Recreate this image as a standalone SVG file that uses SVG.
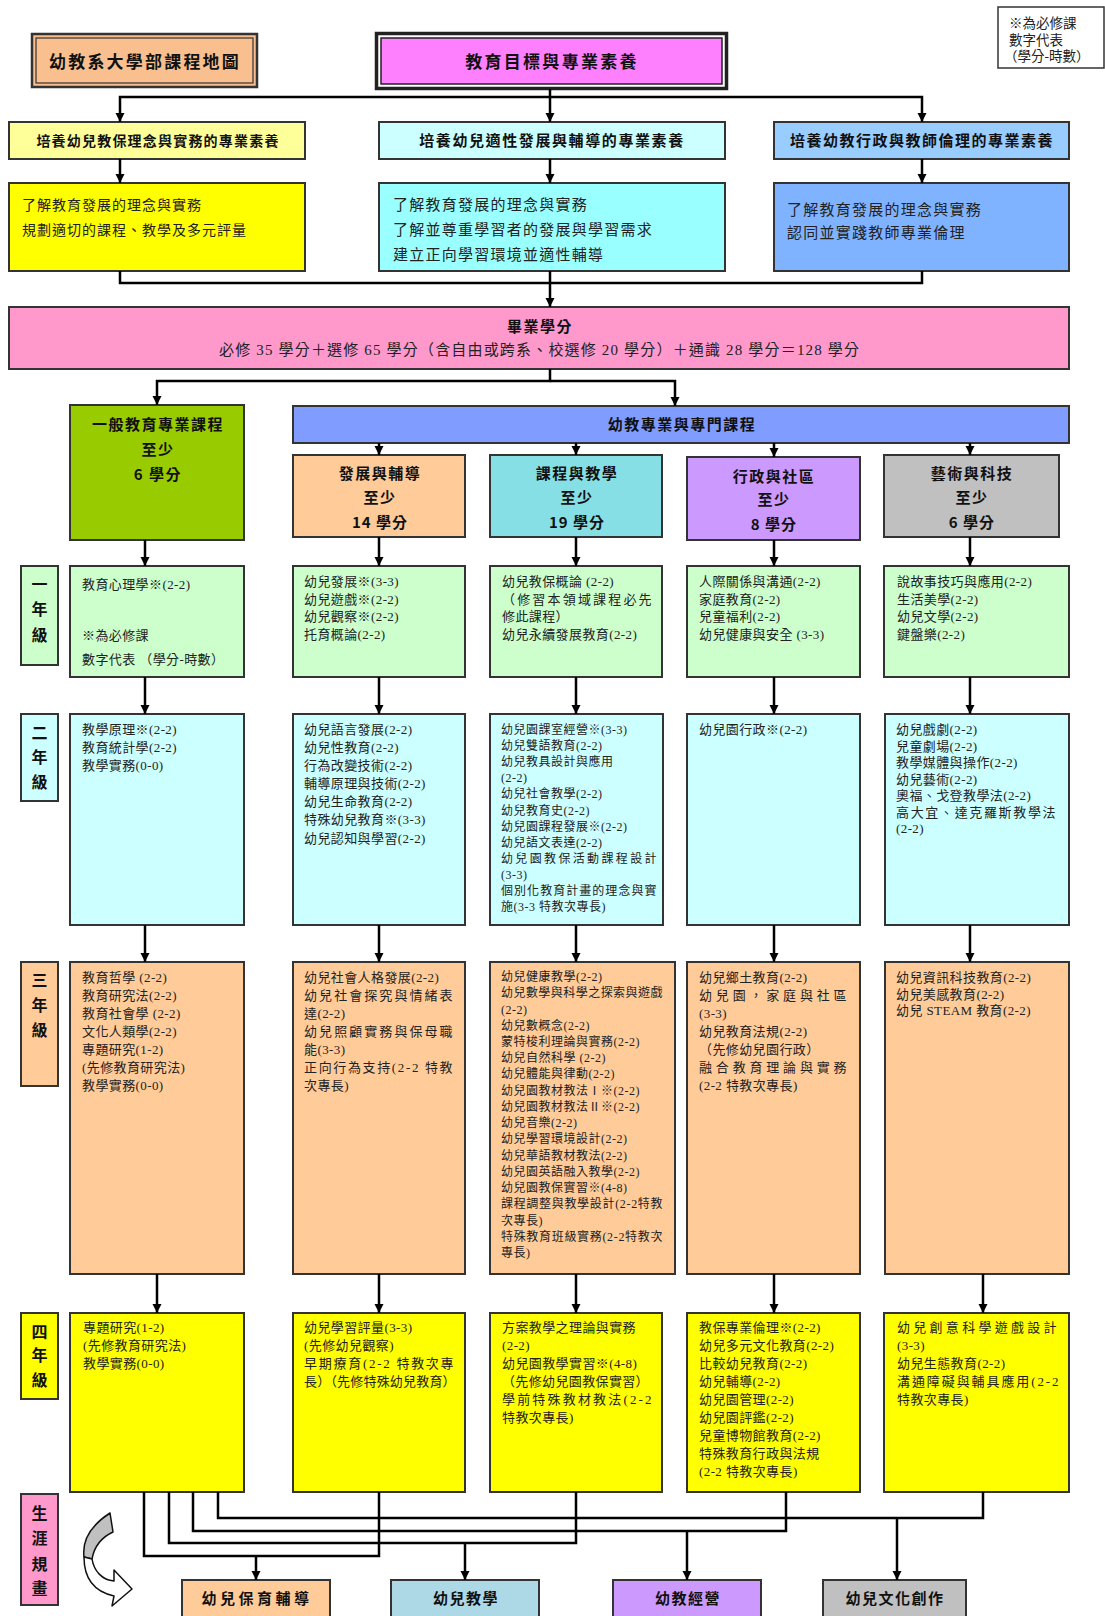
<svg xmlns="http://www.w3.org/2000/svg" width="1105" height="1616" viewBox="0 0 1105 1616">
<defs>
<marker id="ah" viewBox="0 0 10 10" refX="10" refY="5" markerWidth="9" markerHeight="10" markerUnits="userSpaceOnUse" orient="auto"><path d="M0,0 L10,5 L0,10 z" fill="#000"/></marker>
</defs>
<style>
.box{stroke:#333;stroke-width:2}
.t{font-family:"Liberation Serif","Noto Sans CJK TC",serif;font-size:13px;fill:#222;letter-spacing:0.4px}
.s{font-size:12px;letter-spacing:0.5px}
.h{font-family:"Noto Sans CJK TC",sans-serif;font-weight:700;fill:#111;text-anchor:middle}
.d{font-family:"Liberation Serif","Noto Sans CJK TC",serif;fill:#222}
.yl{font-family:"Noto Sans CJK TC",sans-serif;font-weight:700;font-size:16px;fill:#111;text-anchor:middle}
.c path,.c line{stroke:#000;stroke-width:2.5;fill:none}
.m{marker-end:url(#ah)}
</style>
<rect width="1105" height="1616" fill="#fff"/>

<g id="title">
<rect x="32" y="34" width="225" height="53" fill="#f9bf8f" stroke="#333" stroke-width="2.5"/>
<rect x="36" y="38" width="217" height="45" fill="none" stroke="#333" stroke-width="1.2"/>
<text class="h" x="145" y="68" font-size="17" letter-spacing="2.2">幼教系大學部課程地圖</text>
</g>

<g id="goal">
<rect x="376.5" y="33.5" width="350" height="55" fill="#fff" stroke="#222" stroke-width="3.5"/>
<rect x="381" y="38" width="341" height="46" fill="#ff80ff" stroke="#222" stroke-width="1.5"/>
<text class="h" x="552" y="68" font-size="17" letter-spacing="2.3">教育目標與專業素養</text>
</g>

<g id="legend">
<rect x="998" y="7" width="106" height="61" fill="#fff" stroke="#333" stroke-width="1.5"/>
<text class="d" x="1009" y="28" font-size="13.5">※為必修課</text>
<text class="d" x="1009" y="45" font-size="13.5">數字代表</text>
<text class="d" x="1004" y="61" font-size="13.5">（學分-時數）</text>
</g>

<g id="comp1">
<rect class="box" x="9" y="122" width="296" height="37" fill="#ffff99"/>
<text class="h" x="158" y="146" font-size="14" letter-spacing="1.2">培養幼兒教保理念與實務的專業素養</text>
</g>
<g id="comp2">
<rect class="box" x="379" y="122" width="346" height="37" fill="#ccffff"/>
<text class="h" x="552" y="146" font-size="15" letter-spacing="1.6">培養幼兒適性發展與輔導的專業素養</text>
</g>
<g id="comp3">
<rect class="box" x="774" y="122" width="295" height="37" fill="#99ccff"/>
<text class="h" x="922" y="146" font-size="15" letter-spacing="1.5">培養幼教行政與教師倫理的專業素養</text>
</g>

<g id="desc1">
<rect class="box" x="9" y="183" width="296" height="88" fill="#ffff00"/>
<text class="d" x="22" y="210" font-size="14" letter-spacing="1">了解教育發展的理念與實務</text>
<text class="d" x="22" y="235" font-size="14" letter-spacing="1">規劃適切的課程、教學及多元評量</text>
</g>
<g id="desc2">
<rect class="box" x="379" y="183" width="346" height="88" fill="#99ffff"/>
<text class="d" x="393" y="210" font-size="15" letter-spacing="1.25">了解教育發展的理念與實務</text>
<text class="d" x="393" y="235" font-size="15" letter-spacing="1.25">了解並尊重學習者的發展與學習需求</text>
<text class="d" x="393" y="260" font-size="15" letter-spacing="1.25">建立正向學習環境並適性輔導</text>
</g>
<g id="desc3">
<rect class="box" x="774" y="183" width="295" height="88" fill="#80b3ff"/>
<text class="d" x="787" y="215" font-size="15" letter-spacing="1.25">了解教育發展的理念與實務</text>
<text class="d" x="787" y="238" font-size="15" letter-spacing="1.25">認同並實踐教師專業倫理</text>
</g>

<g id="credits">
<rect class="box" x="9" y="307" width="1060" height="62" fill="#ff99cc"/>
<text class="h" x="540" y="332" font-size="15" letter-spacing="1.5">畢業學分</text>
<text class="d" x="219" y="355" font-size="15" textLength="640" lengthAdjust="spacing">必修 35 學分＋選修 65 學分（含自由或跨系、校選修 20 學分）＋通識 28 學分＝128 學分</text>
</g>

<g id="general">
<rect class="box" x="70" y="405" width="174" height="135" fill="#99cc00"/>
<text class="h" x="158" y="430" font-size="15" letter-spacing="1.5">一般教育專業課程</text>
<text class="h" x="158" y="455" font-size="15" letter-spacing="1.5">至少</text>
<text class="h" x="158" y="480" font-size="15" letter-spacing="1.5">6 學分</text>
</g>

<g id="major">
<rect class="box" x="293" y="406" width="776" height="37" fill="#809cff"/>
<text class="h" x="682" y="430" font-size="15" letter-spacing="1.5">幼教專業與專門課程</text>
</g>

<g id="cat-dev">
<rect class="box" x="293" y="455" width="172" height="82" fill="#ffcc99"/>
<text class="h" x="380" y="479" font-size="15" letter-spacing="1.5">發展與輔導</text>
<text class="h" x="380" y="503" font-size="15" letter-spacing="1.5">至少</text>
<text class="h" x="380" y="528" font-size="15" letter-spacing="1">14 學分</text>
</g>
<g id="cat-cur">
<rect class="box" x="490" y="455" width="172" height="82" fill="#85dfe5"/>
<text class="h" x="577" y="479" font-size="15" letter-spacing="1.5">課程與教學</text>
<text class="h" x="577" y="503" font-size="15" letter-spacing="1.5">至少</text>
<text class="h" x="577" y="528" font-size="15" letter-spacing="1">19 學分</text>
</g>
<g id="cat-adm">
<rect class="box" x="687" y="457" width="173" height="83" fill="#cc99ff"/>
<text class="h" x="774" y="482" font-size="15" letter-spacing="1.5">行政與社區</text>
<text class="h" x="774" y="505" font-size="15" letter-spacing="1.5">至少</text>
<text class="h" x="774" y="530" font-size="15" letter-spacing="1">8 學分</text>
</g>
<g id="cat-art">
<rect class="box" x="884" y="455" width="175" height="82" fill="#c0c0c0"/>
<text class="h" x="972" y="479" font-size="15" letter-spacing="1.5">藝術與科技</text>
<text class="h" x="972" y="503" font-size="15" letter-spacing="1.5">至少</text>
<text class="h" x="972" y="528" font-size="15" letter-spacing="1">6 學分</text>
</g>

<!-- Year 1 -->
<g id="y1-label">
<rect class="box" x="21" y="566" width="37" height="99" fill="#ccffcc"/>
<text class="yl" x="39.5" y="590">一</text><text class="yl" x="39.5" y="615">年</text><text class="yl" x="39.5" y="641">級</text>
</g>
<g id="y1-gen">
<rect class="box" x="70" y="566" width="174" height="111" fill="#ccffcc"/>
<text class="t" x="82" y="589">教育心理學※(2-2)</text>
<text class="t" x="82" y="640">※為必修課</text>
<text class="t" x="82" y="664">數字代表 （學分-時數）</text>
</g>
<g id="y1-dev">
<rect class="box" x="293" y="566" width="172" height="111" fill="#ccffcc"/>
<text class="t" x="304" y="586">幼兒發展※(3-3)</text>
<text class="t" x="304" y="604">幼兒遊戲※(2-2)</text>
<text class="t" x="304" y="621">幼兒觀察※(2-2)</text>
<text class="t" x="304" y="639">托育概論(2-2)</text>
</g>
<g id="y1-cur">
<rect class="box" x="490" y="566" width="172" height="111" fill="#ccffcc"/>
<text class="t" x="502" y="586">幼兒教保概論 (2-2)</text>
<text class="t" x="502" y="604" textLength="150" lengthAdjust="spacing">（修習本領域課程必先</text>
<text class="t" x="502" y="621">修此課程）</text>
<text class="t" x="502" y="639">幼兒永續發展教育(2-2)</text>
</g>
<g id="y1-adm">
<rect class="box" x="687" y="566" width="173" height="111" fill="#ccffcc"/>
<text class="t" x="699" y="586">人際關係與溝通(2-2)</text>
<text class="t" x="699" y="604">家庭教育(2-2)</text>
<text class="t" x="699" y="621">兒童福利(2-2)</text>
<text class="t" x="699" y="639">幼兒健康與安全 (3-3)</text>
</g>
<g id="y1-art">
<rect class="box" x="884" y="566" width="185" height="111" fill="#ccffcc"/>
<text class="t" x="897" y="586">說故事技巧與應用(2-2)</text>
<text class="t" x="897" y="604">生活美學(2-2)</text>
<text class="t" x="897" y="621">幼兒文學(2-2)</text>
<text class="t" x="897" y="639">鍵盤樂(2-2)</text>
</g>

<!-- Year 2 -->
<g id="y2-label">
<rect class="box" x="21" y="714" width="37" height="87" fill="#ccffff"/>
<text class="yl" x="39.5" y="739">二</text><text class="yl" x="39.5" y="763">年</text><text class="yl" x="39.5" y="788">級</text>
</g>
<g id="y2-gen">
<rect class="box" x="70" y="714" width="174" height="211" fill="#ccffff"/>
<text class="t" x="82" y="734">教學原理※(2-2)</text>
<text class="t" x="82" y="752">教育統計學(2-2)</text>
<text class="t" x="82" y="770">教學實務(0-0)</text>
</g>
<g id="y2-dev">
<rect class="box" x="293" y="714" width="172" height="211" fill="#ccffff"/>
<text class="t" x="304" y="734">幼兒語言發展(2-2)</text>
<text class="t" x="304" y="752">幼兒性教育(2-2)</text>
<text class="t" x="304" y="770">行為改變技術(2-2)</text>
<text class="t" x="304" y="788">輔導原理與技術(2-2)</text>
<text class="t" x="304" y="806">幼兒生命教育(2-2)</text>
<text class="t" x="304" y="824">特殊幼兒教育※(3-3)</text>
<text class="t" x="304" y="843">幼兒認知與學習(2-2)</text>
</g>
<g id="y2-cur">
<rect class="box" x="490" y="714" width="173" height="211" fill="#ccffff"/>
<text class="t s" x="501" y="734">幼兒園課室經營※(3-3)</text>
<text class="t s" x="501" y="750">幼兒雙語教育(2-2)</text>
<text class="t s" x="501" y="766">幼兒教具設計與應用</text>
<text class="t s" x="501" y="782">(2-2)</text>
<text class="t s" x="501" y="798">幼兒社會教學(2-2)</text>
<text class="t s" x="501" y="815">幼兒教育史(2-2)</text>
<text class="t s" x="501" y="831">幼兒園課程發展※(2-2)</text>
<text class="t s" x="501" y="847">幼兒語文表達(2-2)</text>
<text class="t s" x="501" y="863" textLength="156" lengthAdjust="spacing">幼兒園教保活動課程設計</text>
<text class="t s" x="501" y="879">(3-3)</text>
<text class="t s" x="501" y="895" textLength="156" lengthAdjust="spacing">個別化教育計畫的理念與實</text>
<text class="t s" x="501" y="911">施(3-3 特教次專長)</text>
</g>
<g id="y2-adm">
<rect class="box" x="687" y="714" width="173" height="211" fill="#ccffff"/>
<text class="t" x="699" y="734">幼兒園行政※(2-2)</text>
</g>
<g id="y2-art">
<rect class="box" x="885" y="714" width="184" height="211" fill="#ccffff"/>
<text class="t" x="896" y="734">幼兒戲劇(2-2)</text>
<text class="t" x="896" y="750.5">兒童劇場(2-2)</text>
<text class="t" x="896" y="767">教學媒體與操作(2-2)</text>
<text class="t" x="896" y="783.5">幼兒藝術(2-2)</text>
<text class="t" x="896" y="800">奧福、戈登教學法(2-2)</text>
<text class="t" x="896" y="816.5" textLength="160" lengthAdjust="spacing">高大宜、達克羅斯教學法</text>
<text class="t" x="896" y="833">(2-2)</text>
</g>

<!-- Year 3 -->
<g id="y3-label">
<rect class="box" x="21" y="962" width="37" height="124" fill="#ffcc99"/>
<text class="yl" x="39.5" y="986">三</text><text class="yl" x="39.5" y="1011">年</text><text class="yl" x="39.5" y="1036">級</text>
</g>
<g id="y3-gen">
<rect class="box" x="70" y="962" width="174" height="312" fill="#ffcc99"/>
<text class="t" x="82" y="982">教育哲學 (2-2)</text>
<text class="t" x="82" y="1000">教育研究法(2-2)</text>
<text class="t" x="82" y="1018">教育社會學 (2-2)</text>
<text class="t" x="82" y="1036">文化人類學(2-2)</text>
<text class="t" x="82" y="1054">專題研究(1-2)</text>
<text class="t" x="82" y="1072">(先修教育研究法)</text>
<text class="t" x="82" y="1090">教學實務(0-0)</text>
</g>
<g id="y3-dev">
<rect class="box" x="293" y="962" width="172" height="312" fill="#ffcc99"/>
<text class="t" x="304" y="982">幼兒社會人格發展(2-2)</text>
<text class="t" x="304" y="1000" textLength="149" lengthAdjust="spacing">幼兒社會探究與情緒表</text>
<text class="t" x="304" y="1018">達(2-2)</text>
<text class="t" x="304" y="1036" textLength="149" lengthAdjust="spacing">幼兒照顧實務與保母職</text>
<text class="t" x="304" y="1054">能(3-3)</text>
<text class="t" x="304" y="1072" textLength="149" lengthAdjust="spacing">正向行為支持(2-2 特教</text>
<text class="t" x="304" y="1090">次專長)</text>
</g>
<g id="y3-cur">
<rect class="box" x="490" y="962" width="185" height="312" fill="#ffcc99"/>
<text class="t s" x="501" y="981">幼兒健康教學(2-2)</text>
<text class="t s" x="501" y="997.2" textLength="162" lengthAdjust="spacing">幼兒數學與科學之探索與遊戲</text>
<text class="t s" x="501" y="1013.5">(2-2)</text>
<text class="t s" x="501" y="1029.7">幼兒數概念(2-2)</text>
<text class="t s" x="501" y="1046">蒙特梭利理論與實務(2-2)</text>
<text class="t s" x="501" y="1062.2">幼兒自然科學 (2-2)</text>
<text class="t s" x="501" y="1078.4">幼兒體能與律動(2-2)</text>
<text class="t s" x="501" y="1094.7">幼兒園教材教法Ⅰ※(2-2)</text>
<text class="t s" x="501" y="1110.9">幼兒園教材教法Ⅱ※(2-2)</text>
<text class="t s" x="501" y="1127.2">幼兒音樂(2-2)</text>
<text class="t s" x="501" y="1143.4">幼兒學習環境設計(2-2)</text>
<text class="t s" x="501" y="1159.6">幼兒華語教材教法(2-2)</text>
<text class="t s" x="501" y="1175.9">幼兒園英語融入教學(2-2)</text>
<text class="t s" x="501" y="1192.1">幼兒園教保實習※(4-8)</text>
<text class="t s" x="501" y="1208.4" textLength="162" lengthAdjust="spacing">課程調整與教學設計(2-2特教</text>
<text class="t s" x="501" y="1224.6">次專長)</text>
<text class="t s" x="501" y="1240.8" textLength="162" lengthAdjust="spacing">特殊教育班級實務(2-2特教次</text>
<text class="t s" x="501" y="1257">專長)</text>
</g>
<g id="y3-adm">
<rect class="box" x="687" y="962" width="173" height="312" fill="#ffcc99"/>
<text class="t" x="699" y="982">幼兒鄉土教育(2-2)</text>
<text class="t" x="699" y="1000" textLength="148" lengthAdjust="spacing">幼兒園，家庭與社區</text>
<text class="t" x="699" y="1018">(3-3)</text>
<text class="t" x="699" y="1036">幼兒教育法規(2-2)</text>
<text class="t" x="699" y="1054">（先修幼兒園行政）</text>
<text class="t" x="699" y="1072" textLength="148" lengthAdjust="spacing">融合教育理論與實務</text>
<text class="t" x="699" y="1090">(2-2 特教次專長)</text>
</g>
<g id="y3-art">
<rect class="box" x="885" y="962" width="184" height="312" fill="#ffcc99"/>
<text class="t" x="896" y="982">幼兒資訊科技教育(2-2)</text>
<text class="t" x="896" y="998.5">幼兒美感教育(2-2)</text>
<text class="t" x="896" y="1015">幼兒 STEAM 教育(2-2)</text>
</g>

<!-- Year 4 -->
<g id="y4-label">
<rect class="box" x="21" y="1313" width="37" height="86" fill="#ffff00"/>
<text class="yl" x="39.5" y="1338">四</text><text class="yl" x="39.5" y="1361">年</text><text class="yl" x="39.5" y="1386">級</text>
</g>
<g id="y4-gen">
<rect class="box" x="70" y="1313" width="174" height="179" fill="#ffff00"/>
<text class="t" x="83" y="1332">專題研究(1-2)</text>
<text class="t" x="83" y="1350">(先修教育研究法)</text>
<text class="t" x="83" y="1368">教學實務(0-0)</text>
</g>
<g id="y4-dev">
<rect class="box" x="293" y="1313" width="172" height="179" fill="#ffff00"/>
<text class="t" x="304" y="1332">幼兒學習評量(3-3)</text>
<text class="t" x="304" y="1350">(先修幼兒觀察)</text>
<text class="t" x="304" y="1368" textLength="150" lengthAdjust="spacing">早期療育(2-2 特教次專</text>
<text class="t" x="304" y="1386" textLength="152" lengthAdjust="spacing">長）（先修特殊幼兒教育）</text>
</g>
<g id="y4-cur">
<rect class="box" x="490" y="1313" width="172" height="179" fill="#ffff00"/>
<text class="t" x="502" y="1332">方案教學之理論與實務</text>
<text class="t" x="502" y="1350">(2-2)</text>
<text class="t" x="502" y="1368">幼兒園教學實習※(4-8)</text>
<text class="t" x="502" y="1386" textLength="147" lengthAdjust="spacing">（先修幼兒園教保實習）</text>
<text class="t" x="502" y="1404" textLength="150" lengthAdjust="spacing">學前特殊教材教法(2-2</text>
<text class="t" x="502" y="1422">特教次專長)</text>
</g>
<g id="y4-adm">
<rect class="box" x="687" y="1313" width="173" height="179" fill="#ffff00"/>
<text class="t" x="699" y="1332">教保專業倫理※(2-2)</text>
<text class="t" x="699" y="1350">幼兒多元文化教育(2-2)</text>
<text class="t" x="699" y="1368">比較幼兒教育(2-2)</text>
<text class="t" x="699" y="1386">幼兒輔導(2-2)</text>
<text class="t" x="699" y="1404">幼兒園管理(2-2)</text>
<text class="t" x="699" y="1422">幼兒園評鑑(2-2)</text>
<text class="t" x="699" y="1440">兒童博物館教育(2-2)</text>
<text class="t" x="699" y="1458">特殊教育行政與法規</text>
<text class="t" x="699" y="1476">(2-2 特教次專長)</text>
</g>
<g id="y4-art">
<rect class="box" x="884" y="1313" width="185" height="179" fill="#ffff00"/>
<text class="t" x="897" y="1332" textLength="160" lengthAdjust="spacing">幼兒創意科學遊戲設計</text>
<text class="t" x="897" y="1350">(3-3)</text>
<text class="t" x="897" y="1368">幼兒生態教育(2-2)</text>
<text class="t" x="897" y="1386" textLength="162" lengthAdjust="spacing">溝通障礙與輔具應用(2-2</text>
<text class="t" x="897" y="1404">特教次專長)</text>
</g>

<!-- Career -->
<g id="career-label">
<rect class="box" x="21" y="1494" width="37" height="111" fill="#ff99cc"/>
<text class="yl" x="39.5" y="1519">生</text><text class="yl" x="39.5" y="1544">涯</text><text class="yl" x="39.5" y="1570">規</text><text class="yl" x="39.5" y="1594">畫</text>
</g>
<g id="career-arrow" stroke="#111" stroke-width="1.5" stroke-linejoin="round">
<path d="M84,1557 C82,1540 90,1526 110,1513 L113,1532 C100,1538 94,1548 92,1559 Z" fill="#c0c0c0"/>
<path d="M84,1557 C84,1580 96,1592 114,1596 L112,1606 L132,1589 L114,1570 L114,1581 C102,1580 94,1571 92,1559 Z" fill="#fff"/>
</g>
<g id="career-care">
<rect class="box" x="182" y="1580" width="148" height="50" fill="#ffcc99"/>
<text class="h" x="257" y="1604" font-size="15" letter-spacing="3.5">幼兒保育輔導</text>
</g>
<g id="career-teach">
<rect class="box" x="391" y="1580" width="148" height="50" fill="#add8e6"/>
<text class="h" x="466" y="1604" font-size="15" letter-spacing="1.5">幼兒教學</text>
</g>
<g id="career-admin">
<rect class="box" x="613" y="1580" width="148" height="50" fill="#cc99ff"/>
<text class="h" x="688" y="1604" font-size="15" letter-spacing="1.5">幼教經營</text>
</g>
<g id="career-culture">
<rect class="box" x="823" y="1580" width="143" height="50" fill="#c0c0c0"/>
<text class="h" x="895" y="1604" font-size="15" letter-spacing="1.5">幼兒文化創作</text>
</g>

<g id="connectors" class="c">
<path class="m" d="M550,89 V122"/>
<path class="m" d="M550,97 H120 V122"/>
<path class="m" d="M550,97 H922 V122"/>
<path class="m" d="M120,159 V183"/>
<path class="m" d="M550,159 V183"/>
<path class="m" d="M922,159 V183"/>
<path d="M120,271 V283 H922 V271"/>
<path class="m" d="M550,271 V307"/>
<path class="m" d="M550,369 V381 H157 V405"/>
<path class="m" d="M550,381 H675 V406"/>
<path class="m" d="M379,443 V455"/>
<path class="m" d="M576,443 V455"/>
<path class="m" d="M774,443 V457"/>
<path class="m" d="M970,443 V455"/>
<path class="m" d="M145,540 V566"/>
<path class="m" d="M379,537 V566"/>
<path class="m" d="M576,537 V566"/>
<path class="m" d="M774,540 V566"/>
<path class="m" d="M970,537 V566"/>
<path class="m" d="M145,677 V714"/>
<path class="m" d="M379,677 V714"/>
<path class="m" d="M576,677 V714"/>
<path class="m" d="M774,677 V714"/>
<path class="m" d="M970,677 V714"/>
<path class="m" d="M145,925 V962"/>
<path class="m" d="M379,925 V962"/>
<path class="m" d="M576,925 V962"/>
<path class="m" d="M774,925 V962"/>
<path class="m" d="M970,925 V962"/>
<path class="m" d="M157,1274 V1313"/>
<path class="m" d="M379,1274 V1313"/>
<path class="m" d="M576,1274 V1313"/>
<path class="m" d="M774,1274 V1313"/>
<path class="m" d="M983,1274 V1313"/>
<path d="M144,1492 V1556 H379 V1492"/>
<path class="m" d="M256,1556 V1580"/>
<path d="M169,1492 V1543 H576 V1492"/>
<path class="m" d="M465,1543 V1580"/>
<path d="M193,1492 V1531 H786 V1492"/>
<path class="m" d="M687,1531 V1580"/>
<path d="M218,1492 V1518 H983 V1492"/>
<path class="m" d="M897,1518 V1580"/>
</g>
</svg>
